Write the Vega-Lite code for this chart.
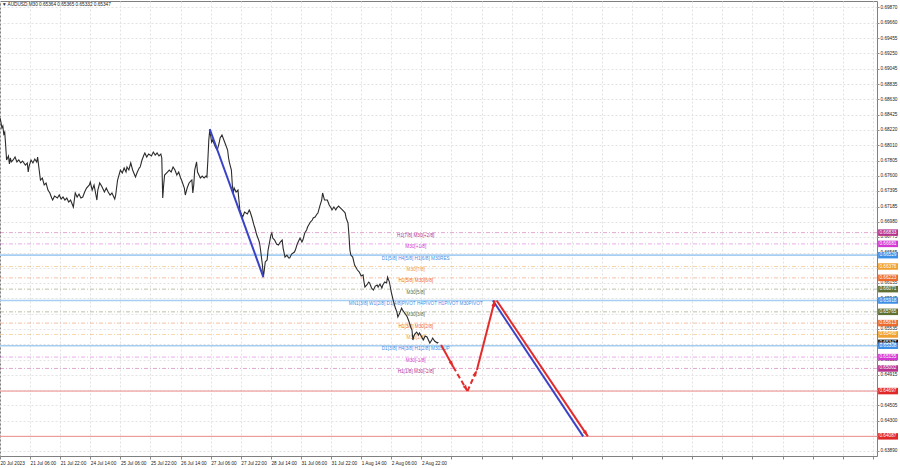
{
  "$schema": "https://vega.github.io/schema/vega-lite/v6.json",
  "width": 877,
  "height": 455,
  "autosize": {"type": "none"},
  "padding": {"left": 0, "top": 1, "right": 23, "bottom": 12},
  "background": "white",
  "config": {"view": {"stroke": "#808080", "strokeWidth": 1}, "font": "Liberation Sans"},
  "datasets": {
    "price": [
      {"i":0,"p":0.68378},{"i":1,"p":0.68324},{"i":2,"p":0.68243},{"i":3,"p":0.68270},{"i":4,"p":0.68162},{"i":5,"p":0.68189},{"i":6,"p":0.68014},{"i":7,"p":0.67812},{"i":9,"p":0.67866},{"i":10,"p":0.67758},{"i":11,"p":0.67839},{"i":12,"p":0.67785},{"i":14,"p":0.67812},{"i":16,"p":0.67852},{"i":18,"p":0.67785},{"i":20,"p":0.67812},{"i":22,"p":0.67772},{"i":24,"p":0.67798},{"i":27,"p":0.67744},{"i":29,"p":0.67772},{"i":30,"p":0.67650},{"i":31,"p":0.67731},{"i":33,"p":0.67812},{"i":35,"p":0.67772},{"i":37,"p":0.67825},{"i":39,"p":0.67785},{"i":40,"p":0.67852},{"i":41,"p":0.67744},{"i":43,"p":0.67542},{"i":45,"p":0.67569},{"i":47,"p":0.67475},{"i":49,"p":0.67502},{"i":51,"p":0.67407},{"i":53,"p":0.67367},
      {"i":55,"p":0.67299},{"i":56,"p":0.67272},{"i":58,"p":0.67326},{"i":61,"p":0.67299},{"i":63,"p":0.67340},{"i":65,"p":0.67286},{"i":67,"p":0.67313},{"i":69,"p":0.67272},{"i":71,"p":0.67299},{"i":73,"p":0.67245},{"i":75,"p":0.67272},{"i":78,"p":0.67178},{"i":79,"p":0.67272},{"i":80,"p":0.67367},{"i":82,"p":0.67313},{"i":84,"p":0.67353},{"i":86,"p":0.67299},{"i":88,"p":0.67313},{"i":90,"p":0.67380},{"i":92,"p":0.67434},{"i":95,"p":0.67475},{"i":96,"p":0.67515},{"i":98,"p":0.67407},{"i":100,"p":0.67475},{"i":102,"p":0.67340},{"i":103,"p":0.67272},{"i":104,"p":0.67407},{"i":106,"p":0.67502},{"i":108,"p":0.67461},{"i":111,"p":0.67380},{"i":113,"p":0.67434},{"i":115,"p":0.67380},{"i":117,"p":0.67340},{"i":119,"p":0.67367},{"i":121,"p":0.67313},{"i":122,"p":0.67286},{"i":123,"p":0.67340},
      {"i":125,"p":0.67542},{"i":128,"p":0.67677},{"i":130,"p":0.67636},{"i":132,"p":0.67704},{"i":134,"p":0.67650},{"i":135,"p":0.67717},{"i":137,"p":0.67677},{"i":139,"p":0.67772},{"i":141,"p":0.67677},{"i":144,"p":0.67582},{"i":146,"p":0.67650},{"i":148,"p":0.67704},{"i":149,"p":0.67717},{"i":151,"p":0.67812},{"i":153,"p":0.67879},{"i":154,"p":0.67906},{"i":156,"p":0.67852},{"i":158,"p":0.67892},{"i":161,"p":0.67866},{"i":163,"p":0.67919},{"i":165,"p":0.67879},{"i":167,"p":0.67906},{"i":169,"p":0.67866},{"i":171,"p":0.67892},{"i":172,"p":0.67839},{"i":173,"p":0.67299},{"i":174,"p":0.67475},{"i":175,"p":0.67609},{"i":178,"p":0.67650},{"i":180,"p":0.67677},{"i":182,"p":0.67650},{"i":184,"p":0.67717},{"i":186,"p":0.67677},{"i":188,"p":0.67609},{"i":190,"p":0.67650},{"i":192,"p":0.67569},{"i":193,"p":0.67542},{"i":196,"p":0.67434},{"i":197,"p":0.67340},{"i":199,"p":0.67434},{"i":201,"p":0.67502},{"i":203,"p":0.67529},{"i":204,"p":0.67542},{"i":205,"p":0.67367},{"i":206,"p":0.67475},{"i":207,"p":0.67677},{"i":209,"p":0.67785},{"i":210,"p":0.67650},{"i":213,"p":0.67569},{"i":215,"p":0.67596},{"i":217,"p":0.67569},{"i":219,"p":0.67596},{"i":220,"p":0.67582},{"i":221,"p":0.67812},{"i":222,"p":0.68081},{"i":223,"p":0.68216},{"i":224,"p":0.68135},{"i":225,"p":0.68054},{"i":226,"p":0.68081},{"i":229,"p":0.67987},{"i":231,"p":0.67946},{"i":233,"p":0.68041},{"i":234,"p":0.68108},{"i":236,"p":0.68148},{"i":238,"p":0.68081},{"i":240,"p":0.68014},{"i":242,"p":0.67946},{"i":243,"p":0.67839},{"i":244,"p":0.67772},{"i":246,"p":0.67677},{"i":247,"p":0.67475},{"i":248,"p":0.67367},{"i":249,"p":0.67434},{"i":251,"p":0.67380},{"i":253,"p":0.67407},{"i":254,"p":0.67272},{"i":255,"p":0.67138},{"i":257,"p":0.67070},{"i":258,"p":0.67043},{"i":260,"p":0.67111},{"i":263,"p":0.67084},{"i":265,"p":0.67138},{"i":266,"p":0.67111},
      {"i":268,"p":0.67030},{"i":270,"p":0.66935},{"i":271,"p":0.66895},{"i":273,"p":0.66800},{"i":275,"p":0.66733},{"i":276,"p":0.66693},{"i":277,"p":0.66598},{"i":279,"p":0.66396},{"i":280,"p":0.66234},{"i":281,"p":0.66329},{"i":282,"p":0.66437},{"i":284,"p":0.66464},{"i":285,"p":0.66598},{"i":287,"p":0.66733},{"i":288,"p":0.66800},{"i":289,"p":0.66828},{"i":290,"p":0.66760},{"i":292,"p":0.66733},{"i":294,"p":0.66679},{"i":296,"p":0.66665},{"i":298,"p":0.66706},{"i":300,"p":0.66733},{"i":301,"p":0.66625},{"i":303,"p":0.66503},{"i":305,"p":0.66530},{"i":307,"p":0.66490},{"i":308,"p":0.66490},{"i":310,"p":0.66544},{"i":313,"p":0.66571},{"i":314,"p":0.66598},{"i":316,"p":0.66679},{"i":318,"p":0.66733},{"i":319,"p":0.66760},{"i":321,"p":0.66706},{"i":322,"p":0.66733},{"i":324,"p":0.66828},{"i":326,"p":0.66868},{"i":327,"p":0.66908},{"i":330,"p":0.66976},{"i":332,"p":0.67003},{"i":333,"p":0.67030},{"i":335,"p":0.67043},{"i":337,"p":0.67084},{"i":338,"p":0.67097},{"i":340,"p":0.67191},{"i":342,"p":0.67272},{"i":343,"p":0.67367},{"i":345,"p":0.67272},{"i":348,"p":0.67272},{"i":350,"p":0.67205},{"i":352,"p":0.67164},{"i":353,"p":0.67138},{"i":355,"p":0.67178},{"i":357,"p":0.67138},{"i":358,"p":0.67164},{"i":360,"p":0.67191},{"i":361,"p":0.67178},{"i":364,"p":0.67138},{"i":366,"p":0.67111},{"i":367,"p":0.67097},{"i":368,"p":0.67030},{"i":370,"p":0.66962},{"i":371,"p":0.66800},{"i":372,"p":0.66598},{"i":373,"p":0.66530},{"i":375,"p":0.66503},{"i":377,"p":0.66396},{"i":380,"p":0.66329},{"i":382,"p":0.66302},{"i":384,"p":0.66248},{"i":386,"p":0.66262},{"i":387,"p":0.66167},{"i":388,"p":0.66100},{"i":390,"p":0.66127},{"i":392,"p":0.66167},{"i":393,"p":0.66154},{"i":395,"p":0.66086},{"i":397,"p":0.66059},{"i":399,"p":0.66113},{"i":401,"p":0.66127},{"i":402,"p":0.66100},{"i":404,"p":0.66140},{"i":406,"p":0.66086},{"i":407,"p":0.66127},{"i":409,"p":0.66167},{"i":411,"p":0.66154},{"i":412,"p":0.66234},{"i":414,"p":0.66167},{"i":415,"p":0.66100},{"i":416,"p":0.66032},{"i":418,"p":0.65924},{"i":420,"p":0.65830},{"i":422,"p":0.65762},{"i":423,"p":0.65695},{"i":425,"p":0.65749},{"i":427,"p":0.65816},{"i":428,"p":0.65790},{"i":431,"p":0.65735},{"i":433,"p":0.65695},{"i":435,"p":0.65628},{"i":437,"p":0.65547},{"i":438,"p":0.65520},{"i":439,"p":0.65385},{"i":440,"p":0.65439},{"i":441,"p":0.65466},{"i":443,"p":0.65493},{"i":445,"p":0.65453},{"i":446,"p":0.65480},{"i":449,"p":0.65412},{"i":450,"p":0.65385},{"i":452,"p":0.65439},{"i":454,"p":0.65426},{"i":456,"p":0.65372},{"i":457,"p":0.65345},{"i":459,"p":0.65385},{"i":460,"p":0.65412},{"i":462,"p":0.65372},{"i":465,"p":0.65345},{"i":466,"p":0.65358}
    ],
    "levels": [
      {"p":0.66833,"k":"vr","t":"H1[7/8] M30[+2/8]"},
      {"p":0.66681,"k":"mg","t":"M30[+1/8]"},
      {"p":0.66529,"k":"bl","t":"D1[5/8] H4[5/8] H1[6/8] M30RES"},
      {"p":0.66376,"k":"or","t":"M30[7/8]"},
      {"p":0.66223,"k":"orr","t":"H1[5/8] M30[6/8]"},
      {"p":0.66071,"k":"ol","t":"M30[5/8]"},
      {"p":0.65918,"k":"bl","t":"MN1[3/8] W1[2/8] D1[4/8]PIVOT H4PIVOT H1PIVOT M30PIVOT"},
      {"p":0.65765,"k":"ol","t":"M30[3/8]"},
      {"p":0.65613,"k":"orr","t":"H1[3/8] M30[2/8]"},
      {"p":0.65460,"k":"or","t":"M30[1/8]"},
      {"p":0.65308,"k":"bl","t":"D1[3/8] H4[3/8] H1[2/8] M30SUP"},
      {"p":0.65155,"k":"mg","t":"M30[-1/8]"},
      {"p":0.65002,"k":"vr","t":"H1[1/8] M30[-2/8]"},
      {"p":0.64697,"k":"rd","t":""},
      {"p":0.64087,"k":"rd","t":""}
    ],
    "tags": [
      {"p":0.66833,"k":"vr"},{"p":0.66681,"k":"mg"},{"p":0.66529,"k":"bl"},{"p":0.66376,"k":"or"},{"p":0.66223,"k":"orr"},{"p":0.66071,"k":"ol"},{"p":0.65918,"k":"bl"},{"p":0.65765,"k":"ol"},{"p":0.65613,"k":"orr"},{"p":0.65460,"k":"or"},{"p":0.65347,"k":"cur"},{"p":0.65308,"k":"bl"},{"p":0.65155,"k":"mg"},{"p":0.65002,"k":"vr"},{"p":0.64697,"k":"rd"},{"p":0.64087,"k":"rd"}
    ],
    "blue": [
      {"s":"trend","i":223,"p":0.68230},{"s":"trend","i":280,"p":0.66234},
      {"s":"proj","i":524,"p":0.65918},{"s":"proj","i":620,"p":0.64087}
    ],
    "redSolid": [
      {"s":"A","i":469,"p":0.65318},{"s":"A","i":482,"p":0.65021},
      {"s":"D","i":507,"p":0.64981},{"s":"D","i":526,"p":0.65918},
      {"s":"E","i":528,"p":0.65918},{"s":"E","i":625,"p":0.64087}
    ],
    "redDash": [
      {"s":"B","i":482,"p":0.65021},{"s":"B","i":497,"p":0.64697},
      {"s":"C","i":497,"p":0.64697},{"s":"C","i":507,"p":0.64981}
    ],
    "heads": [
      {"s":"A","i":482,"p":0.65021},{"s":"B","i":497,"p":0.64697},{"s":"C","i":507,"p":0.64981},{"s":"D","i":526,"p":0.65918},{"s":"E","i":625,"p":0.64087}
    ],
    "title": [{"t":"▼ AUDUSD,M30  0.65364 0.65365 0.65332 0.65347"}]
  },
  "layer": [
    {
      "data": {"name": "levels"},
      "transform": [{"filter": "indexof(['vr','mg','or','orr','ol'], datum.k) >= 0"}],
      "mark": {"type": "rule", "strokeDash": [4, 2, 1, 2], "strokeWidth": 1, "opacity": 0.42},
      "encoding": {
        "y": {"field": "p", "type": "quantitative", "title": null,
          "scale": {"domain": [0.63822, 0.69955], "nice": false, "zero": false},
          "axis": {"orient": "right", "values": [0.6987,0.6966,0.69455,0.6925,0.69045,0.68835,0.6863,0.68425,0.6822,0.6801,0.67805,0.676,0.67395,0.67185,0.6698,0.66775,0.66565,0.6636,0.66155,0.65945,0.6574,0.65535,0.6533,0.6512,0.64915,0.6471,0.64505,0.643,0.64095,0.6389],
            "tickCount": 200, "format": ".5f", "labelFontSize": 4.7, "labelColor": "#222", "tickSize": 2, "tickColor": "#888", "labelPadding": 1, "domain": false, "grid": true, "gridColor": "#e3e3e3", "gridDash": [2, 2], "labelOverlap": false, "labelBound": false, "labelFlush": false}},
        "color": {"field": "k", "type": "nominal", "legend": null,
          "scale": {"domain": ["vr","mg","bl","or","orr","ol","rd","cur"], "range": ["#b5338f","#d23ad2","#3d8fe6","#f0a030","#ec6a2c","#5f7033","#e02828","#111111"]}}
      }
    },
    {
      "data": {"name": "levels"},
      "transform": [{"filter": "datum.k == 'bl'"}],
      "mark": {"type": "rule", "strokeWidth": 1.6, "color": "#a6cdf2"},
      "encoding": {"y": {"field": "p", "type": "quantitative", "title": null}}
    },
    {
      "data": {"name": "levels"},
      "transform": [{"filter": "datum.k == 'rd'"}],
      "mark": {"type": "rule", "strokeWidth": 1, "color": "#ec8a8a"},
      "encoding": {"y": {"field": "p", "type": "quantitative", "title": null}}
    },
    {
      "data": {"name": "levels"},
      "transform": [{"filter": "datum.t != ''"}],
      "mark": {"type": "text", "fontSize": 4.7, "align": "center", "baseline": "middle", "dy": 3.5},
      "encoding": {
        "x": {"datum": 442, "type": "quantitative"},
        "y": {"field": "p", "type": "quantitative", "title": null},
        "text": {"field": "t"},
        "color": {"field": "k", "type": "nominal", "legend": null,
          "scale": {"domain": ["vr","mg","bl","or","orr","ol","rd","cur"], "range": ["#b5338f","#d23ad2","#3d8fe6","#f0a030","#ec6a2c","#5f7033","#e02828","#111111"]}}
      }
    },
    {
      "data": {"name": "price"},
      "mark": {"type": "line", "color": "#2b2b2b", "strokeWidth": 1.1},
      "encoding": {
        "x": {"field": "i", "type": "quantitative", "title": null,
          "scale": {"domain": [0, 932.4], "nice": false, "zero": false},
          "axis": {"values": [0,32,64,96,128,160,192,224,256,288,320,352,384,416,448,480,512,544,576,608,640,672,704,736,768,800,832,864,896,928],
            "tickCount": 200,
            "labelExpr": "datum.value <= 448 ? ['20 Jul 2023','21 Jul 06:00','21 Jul 22:00','24 Jul 14:00','25 Jul 06:00','25 Jul 22:00','26 Jul 14:00','27 Jul 06:00','27 Jul 22:00','28 Jul 14:00','31 Jul 06:00','31 Jul 22:00','1 Aug 14:00','2 Aug 06:00','2 Aug 22:00'][round(datum.value/32)] : ''",
            "labelAlign": "left", "labelFontSize": 4.7, "labelColor": "#222", "tickSize": 3, "tickColor": "#888", "labelPadding": 1, "domain": false, "grid": true, "gridColor": "#e3e3e3", "gridDash": [2, 2], "labelOverlap": false, "labelBound": false, "labelFlush": false}},
        "y": {"field": "p", "type": "quantitative", "title": null}
      }
    },
    {
      "data": {"name": "blue"},
      "mark": {"type": "line", "color": "#3a43c8", "strokeWidth": 2},
      "encoding": {
        "x": {"field": "i", "type": "quantitative", "title": null},
        "y": {"field": "p", "type": "quantitative", "title": null},
        "detail": {"field": "s"}
      }
    },
    {
      "data": {"name": "redSolid"},
      "mark": {"type": "line", "color": "#e32b2b", "strokeWidth": 2},
      "encoding": {
        "x": {"field": "i", "type": "quantitative", "title": null},
        "y": {"field": "p", "type": "quantitative", "title": null},
        "detail": {"field": "s"}
      }
    },
    {
      "data": {"name": "redDash"},
      "mark": {"type": "line", "color": "#e32b2b", "strokeWidth": 2, "strokeDash": [5, 3]},
      "encoding": {
        "x": {"field": "i", "type": "quantitative", "title": null},
        "y": {"field": "p", "type": "quantitative", "title": null},
        "detail": {"field": "s"}
      }
    },
    {
      "data": {"name": "heads"},
      "mark": {"type": "point", "shape": "M0,0L0.5,1.6L-0.5,1.6Z", "filled": true, "color": "#e32b2b", "size": 60, "opacity": 1},
      "encoding": {
        "x": {"field": "i", "type": "quantitative", "title": null},
        "y": {"field": "p", "type": "quantitative", "title": null},
        "angle": {"field": "s", "type": "nominal", "legend": null, "scale": {"type": "ordinal", "domain": ["A","B","C","D","E"], "range": [151, 150, 24, 14, 146]}}
      }
    },
    {
      "data": {"name": "tags"},
      "mark": {"type": "rule", "strokeWidth": 6.5, "strokeCap": "butt"},
      "encoding": {
        "x": {"datum": 933.6, "type": "quantitative"},
        "x2": {"datum": 954.7},
        "y": {"field": "p", "type": "quantitative", "title": null},
        "color": {"field": "k", "type": "nominal", "legend": null,
          "scale": {"domain": ["vr","mg","bl","or","orr","ol","rd","cur"], "range": ["#b5338f","#d23ad2","#3d8fe6","#f0a030","#ec6a2c","#5f7033","#e02828","#111111"]}}
      }
    },
    {
      "data": {"name": "tags"},
      "mark": {"type": "text", "fontSize": 4.7, "color": "white", "align": "center", "baseline": "middle"},
      "encoding": {
        "x": {"datum": 944, "type": "quantitative"},
        "y": {"field": "p", "type": "quantitative", "title": null},
        "text": {"field": "p", "type": "quantitative", "format": ".5f"}
      }
    },
    {
      "data": {"name": "title"},
      "mark": {"type": "text", "fontSize": 4.7, "color": "#222", "align": "left", "baseline": "middle"},
      "encoding": {
        "x": {"datum": 2, "type": "quantitative"},
        "y": {"datum": 0.69901, "type": "quantitative"},
        "text": {"field": "t"}
      }
    }
  ]
}
